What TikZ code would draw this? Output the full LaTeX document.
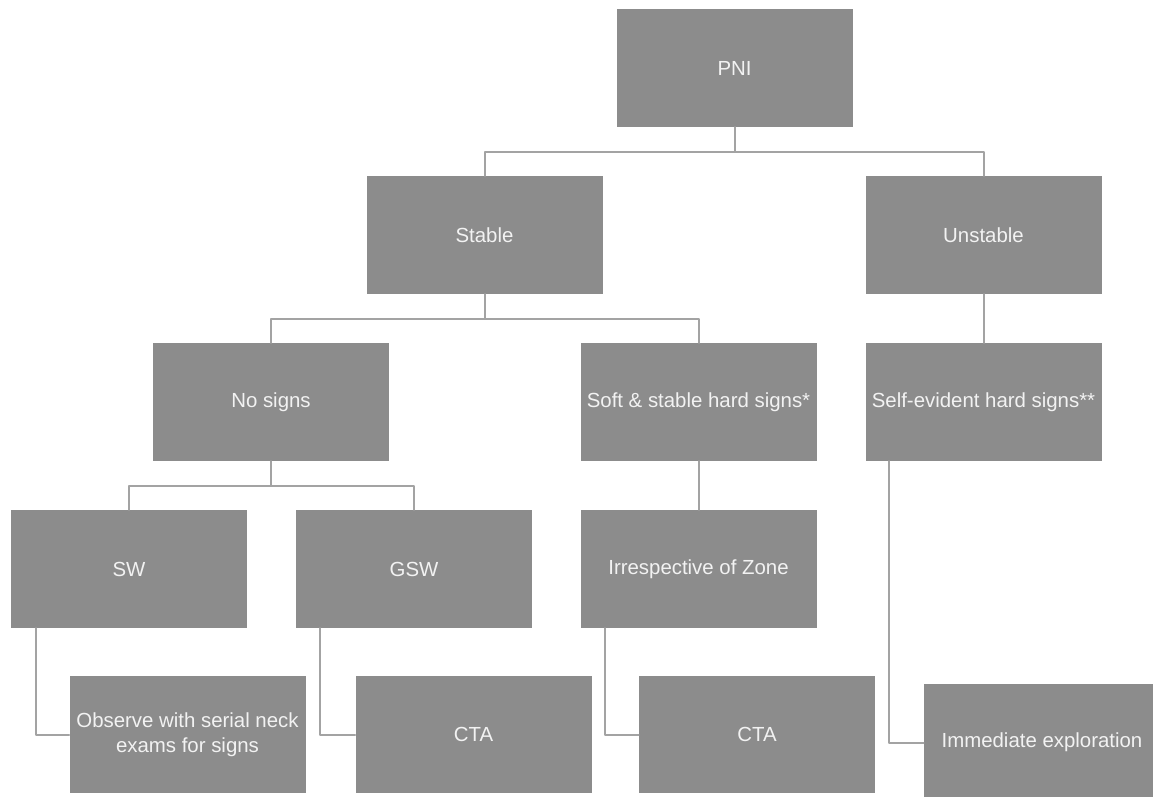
\documentclass[tikz,border=0pt]{standalone}
\usepackage{fontspec}
\setmainfont{Liberation Sans}
\definecolor{boxgray}{HTML}{8C8C8C}
\definecolor{linegray}{HTML}{A3A3A3}
\definecolor{txtgray}{HTML}{F2F2F2}
\begin{document}
\begin{tikzpicture}[x = 0.5pt, y = -0.5pt, line join = round, line cap = round,
		box/.style = {fill = boxgray, text = txtgray, minimum width = 118pt, minimum height = 58.75pt, inner sep = 0pt, align = center, font = \fontsize{10.2}{12.5}\selectfont},
		link/.style = {draw = linegray, line width = 1pt}]
				\clip (0,0) rectangle (1153,797);
				\fill[white] (0,0) rectangle (1153,797);
				\foreach \n/\x/\y/\t in {pni/734.5/68/PNI, stable/484.5/235/Stable, unstable/983.5/235/Unstable, nosigns/271/402/No signs, soft/698.5/402/{Soft \& stable hard signs*}, selfev/983.5/402/{Self-evident hard signs**}, sw/129/569/SW, gsw/414/569/GSW, irresp/698.5/569/Irrespective of Zone, observe/187.5/734.5/{Observe with serial neck\\exams for signs}, cta/473.5/734.5/CTA, ctab/757/734.5/CTA, immed/1042/742.5/Immediate exploration}{
					\node[box] (\n) at (\x,\y) {\t};
				}
				\draw[link] (pni.south) -- ++(0,25) -| (stable.north) (pni.south) -- ++(0,25) -| (unstable.north);
				\draw[link] (stable.south) -- ++(0,25) -| (nosigns.north) (stable.south) -- ++(0,25) -| (soft.north);
				\draw[link] (nosigns.south) -- ++(0,25) -| (sw.north) (nosigns.south) -- ++(0,25) -| (gsw.north);
				\draw[link] (unstable.south) -- (selfev.north) (soft.south) -- (irresp.north);
				\draw[link] ([xshift = 12.5pt]sw.south west) |- (observe.west);
				\draw[link] ([xshift = 12pt]gsw.south west) |- (cta.west);
				\draw[link] ([xshift = 12.5pt]irresp.south west) |- (ctab.west);
				\draw[link] ([xshift = 12pt]selfev.south west) |- (immed.west);
			\end{tikzpicture}
\end{document}
